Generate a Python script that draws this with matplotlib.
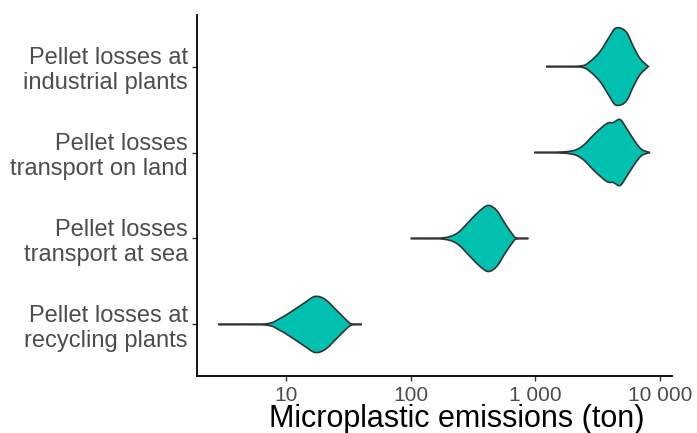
import matplotlib
matplotlib.use("Agg")
import matplotlib.pyplot as plt
from matplotlib.path import Path
from matplotlib.patches import PathPatch
import numpy as np

plt.rcParams['font.family'] = ['Liberation Sans', 'DejaVu Sans']

# categories, bottom to top
categories = ["Pellet losses at\nrecycling plants",
              "Pellet losses\ntransport at sea",
              "Pellet losses\ntransport on land",
              "Pellet losses at\nindustrial plants"]

# violin outlines: emission values (ton) and half width
recycling_x = [2.86, 6.79, 8.95, 11.4, 14.2, 17.1, 20.6, 25.5, 30.7, 33.7, 40.5]
recycling_w = [0, 0.006, 0.07, 0.163, 0.256, 0.326, 0.291, 0.163, 0.047, 0.006, 0]

sea_x = [100, 177, 234, 299, 360, 420, 490, 571, 666, 709, 879]
sea_w = [0, 0.006, 0.058, 0.209, 0.326, 0.384, 0.326, 0.174, 0.035, 0.006, 0]

land_x = [980, 1840, 2360, 3010, 3740, 4220, 4780, 5400, 6300, 7130, 8310]
land_w = [0, 0.012, 0.07, 0.221, 0.337, 0.349, 0.384, 0.279, 0.128, 0.035, 0]

industrial_x = [1220, 2280, 2740, 3300, 3850, 4350, 4930, 5470, 6110, 6920, 8060]
industrial_w = [0, 0.006, 0.058, 0.174, 0.326, 0.442, 0.442, 0.384, 0.233, 0.093, 0]

xticks = [10, 100, 1000, 10000]
xticklabels = ["10", "100", "1 000", "10 000"]


def smooth_side(lx, y):
    # catmull-rom through the read points, as bezier segments (log x space)
    verts, codes = [], []
    n = len(lx)
    for i in range(n - 1):
        p0 = np.array([lx[max(i - 1, 0)], y[max(i - 1, 0)]])
        p1 = np.array([lx[i], y[i]])
        p2 = np.array([lx[i + 1], y[i + 1]])
        p3 = np.array([lx[min(i + 2, n - 1)], y[min(i + 2, n - 1)]])
        c1 = p1 + (p2 - p0) / 6
        c2 = p2 - (p3 - p1) / 6
        verts += [c1, c2, p2]
        codes += [Path.CURVE4] * 3
    return verts, codes


fig = plt.figure(figsize=(6.97, 4.33), dpi=100)
ax = fig.add_axes([0.2826, 0.1316, 0.6815, 0.8338])

violins = [(recycling_x, recycling_w), (sea_x, sea_w),
           (land_x, land_w), (industrial_x, industrial_w)]
for pos, (vx, vw) in enumerate(violins, start=1):
    lx = np.log10(vx)
    vw = np.array(vw)
    top_v, top_c = smooth_side(lx, pos + vw)
    bot_v, bot_c = smooth_side(lx[::-1], (pos - vw)[::-1])
    verts = [np.array([lx[0], pos])] + top_v + bot_v + [np.array([lx[0], pos])]
    codes = [Path.MOVETO] + top_c + bot_c + [Path.CLOSEPOLY]
    verts = np.array(verts)
    verts[:, 0] = 10 ** verts[:, 0]
    patch = PathPatch(Path(verts, codes), facecolor="#00C0AF",
                      edgecolor="#333333", linewidth=1.2)
    ax.add_patch(patch)

ax.set_xscale("log")
ax.set_xlim(1.93, 12470)
ax.set_ylim(0.4, 4.6)
ax.set_xticks(xticks)
ax.set_xticklabels(xticklabels)
ax.xaxis.set_minor_locator(matplotlib.ticker.NullLocator())
ax.set_yticks(range(1, 5))
ax.set_yticklabels(categories)

for s in ["top", "right"]:
    ax.spines[s].set_visible(False)
for s in ["left", "bottom"]:
    ax.spines[s].set_linewidth(1.3)
    ax.spines[s].set_color("black")

ax.tick_params(axis="x", length=3.5, width=1, color="#333333",
               labelsize=15, labelcolor="#4D4D4D", pad=4)
ax.tick_params(axis="y", length=3.5, width=1, color="#333333",
               labelsize=17, labelcolor="#4D4D4D", pad=3)

ax.set_xlabel("Microplastic emissions (ton)", fontsize=22, color="black")
ax.xaxis.set_label_coords(0.547, -0.078)

fig.savefig("out.png", dpi=100)
